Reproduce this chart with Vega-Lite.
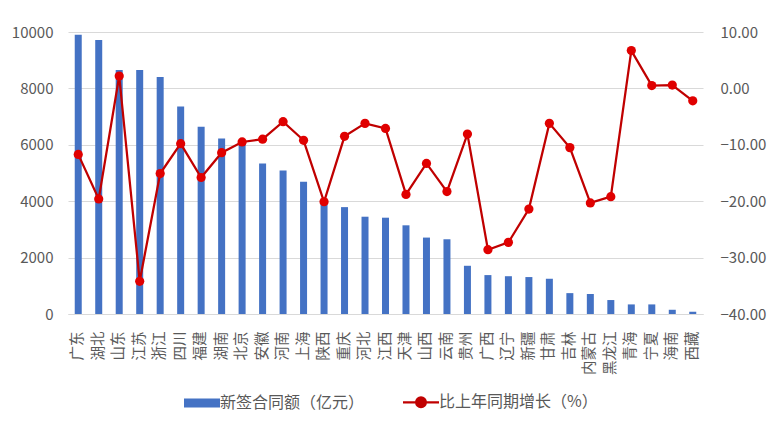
{
  "$schema": "https://vega.github.io/schema/vega-lite/v6.json",
  "width": 635,
  "height": 282,
  "autosize": {"type": "none"},
  "padding": {"left": 68, "top": 32, "right": 80, "bottom": 117},
  "background": "white",
  "config": {
    "font": "Noto Sans CJK SC",
    "view": {"stroke": null},
    "axis": {"labelColor": "#595959", "labelFontSize": 15, "ticks": false, "title": null}
  },
  "data": {
    "values": [
      {"province": "广东", "amount": 9900, "growth": -11.7},
      {"province": "湖北", "amount": 9720, "growth": -19.6},
      {"province": "山东", "amount": 8650, "growth": 2.2},
      {"province": "江苏", "amount": 8650, "growth": -34.2},
      {"province": "浙江", "amount": 8400, "growth": -15.1},
      {"province": "四川", "amount": 7360, "growth": -9.8},
      {"province": "福建", "amount": 6640, "growth": -15.8},
      {"province": "湖南", "amount": 6220, "growth": -11.4},
      {"province": "北京", "amount": 6150, "growth": -9.5},
      {"province": "安徽", "amount": 5340, "growth": -9.0},
      {"province": "河南", "amount": 5090, "growth": -5.9},
      {"province": "上海", "amount": 4690, "growth": -9.2},
      {"province": "陕西", "amount": 4050, "growth": -20.1},
      {"province": "重庆", "amount": 3790, "growth": -8.5},
      {"province": "河北", "amount": 3450, "growth": -6.2},
      {"province": "江西", "amount": 3415, "growth": -7.1},
      {"province": "天津", "amount": 3145, "growth": -18.8},
      {"province": "山西", "amount": 2710, "growth": -13.3},
      {"province": "云南", "amount": 2650, "growth": -18.3},
      {"province": "贵州", "amount": 1710, "growth": -8.1},
      {"province": "广西", "amount": 1380, "growth": -28.6},
      {"province": "辽宁", "amount": 1340, "growth": -27.3},
      {"province": "新疆", "amount": 1310, "growth": -21.4},
      {"province": "甘肃", "amount": 1250, "growth": -6.2},
      {"province": "吉林", "amount": 740, "growth": -10.5},
      {"province": "内蒙古", "amount": 710, "growth": -20.3},
      {"province": "黑龙江", "amount": 495, "growth": -19.2},
      {"province": "青海", "amount": 340, "growth": 6.7},
      {"province": "宁夏", "amount": 340, "growth": 0.5},
      {"province": "海南", "amount": 150, "growth": 0.6},
      {"province": "西藏", "amount": 80, "growth": -2.2}
    ]
  },
  "encoding": {
    "x": {
      "field": "province",
      "type": "nominal",
      "sort": null,
      "scale": {"paddingInner": 0, "paddingOuter": 0},
      "axis": {
        "labelAngle": -90,
        "labelFontSize": 14.5,
        "labelPadding": 17,
        "domainColor": "#D9D9D9",
        "grid": false
      }
    }
  },
  "layer": [
    {
      "mark": {"type": "bar", "size": 7, "color": "#4472C4"},
      "encoding": {
        "y": {
          "field": "amount",
          "type": "quantitative",
          "scale": {"domain": [0, 10000], "nice": false},
          "axis": {
            "orient": "left",
            "values": [0, 2000, 4000, 6000, 8000, 10000],
            "format": "d",
            "domain": false,
            "grid": true,
            "gridColor": "#D9D9D9",
            "labelPadding": 15
          }
        },
        "color": {
          "datum": "新签合同额（亿元）",
          "type": "nominal",
          "scale": {
            "domain": ["新签合同额（亿元）", "比上年同期增长（%）"],
            "range": ["#4472C4", "#C00000"]
          },
          "legend": {
            "orient": "none",
            "legendX": 126,
            "legendY": 362,
            "direction": "horizontal",
            "columns": 2,
            "title": null,
            "padding": 0,
            "symbolSize": 1296,
            "labelFontSize": 16,
            "labelColor": "#595959",
            "labelOffset": 10,
            "labelLimit": 300,
            "columnPadding": 33,
            "encode": {
              "symbols": {
                "update": {
                  "shape": {"signal": "datum.value === '新签合同额（亿元）' ? 'M-1,-0.25H1V0.25H-1Z' : 'M-1,0H1M0.27,0A0.27,0.27,0,1,1,-0.27,0A0.27,0.27,0,1,1,0.27,0'"},
                  "fill": {"signal": "datum.value === '新签合同额（亿元）' ? '#4472C4' : '#E00000'"},
                  "stroke": {"signal": "datum.value === '新签合同额（亿元）' ? '#4472C4' : '#C00000'"},
                  "strokeWidth": {"signal": "datum.value === '新签合同额（亿元）' ? 0 : 2.25"},
                  "opacity": {"value": 1},
                  "fillOpacity": {"value": 1},
                  "size": {"value": 1296}
                }
              }
            }
          }
        }
      }
    },
    {
      "mark": {
        "type": "line",
        "color": "#C00000",
        "strokeWidth": 2.25,
        "point": {"filled": true, "fill": "#E00000", "size": 85}
      },
      "encoding": {
        "y": {
          "field": "growth",
          "type": "quantitative",
          "scale": {"domain": [-40, 10], "nice": false},
          "axis": {
            "orient": "right",
            "values": [-40, -30, -20, -10, 0, 10],
            "format": ".2f",
            "domain": false,
            "grid": false,
            "labelPadding": 17
          }
        }
      }
    }
  ],
  "resolve": {"scale": {"y": "independent"}}
}
